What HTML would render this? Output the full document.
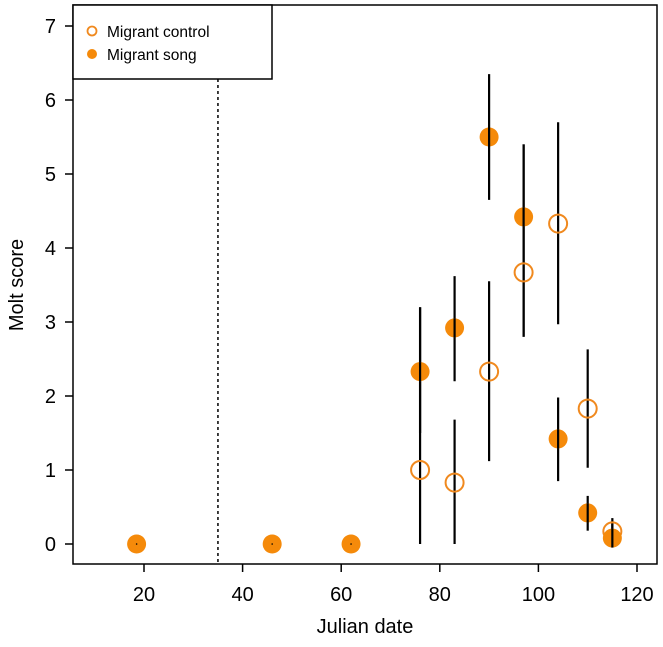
<!DOCTYPE html>
<html><head><meta charset="utf-8"><style>
body{margin:0;background:#fff}
svg{font-family:"Liberation Sans",sans-serif}
</style></head><body>
<svg id="c" width="663" height="642"></svg>
<script>
const xTicks=[20,40,60,80,100,120];
const yTicks=[0,1,2,3,4,5,6,7];
const songX=[18.5,46,62,76,83,90,97,104,110,115];
const songY=[0,0,0,2.33,2.92,5.5,4.42,1.42,0.42,0.08];
const songLo=[0,0,0,1.5,2.2,4.65,2.8,0.85,0.18,0];
const songHi=[0,0,0,3.2,3.62,6.35,5.4,1.98,0.65,0.3];
const ctrlX=[76,83,90,97,104,110,115];
const ctrlY=[1.0,0.83,2.33,3.67,4.33,1.83,0.17];
const ctrlLo=[0,0,1.12,2.8,2.97,1.03,0];
const ctrlHi=[3.2,1.68,3.55,5.4,5.7,2.63,0.35];
const cutoff=35;
const X=v=>144+(v-20)*4.93, Y=v=>544-v*74;
const svg=document.getElementById('c');const NS='http://www.w3.org/2000/svg';
function mk(t,a,p){const e=document.createElementNS(NS,t);for(const k in a)e.setAttribute(k,a[k]);(p||svg).appendChild(e);return e;}
const L=73,R=657,T=5,B=564;
let e=mk('rect',{x:L,y:T,width:R-L,height:B-T,fill:'none',stroke:'#000','stroke-width':1.5});


xTicks.forEach(v=>{
 let t=mk('line',{x1:X(v),x2:X(v),y1:B,y2:B+8,stroke:'#000','stroke-width':1.5});
 
 
 let l=mk('text',{x:X(v),y:B+37,'text-anchor':'middle','font-size':20});l.textContent=v;
 
 
});
yTicks.forEach(v=>{
 let t=mk('line',{x1:L-8,x2:L,y1:Y(v),y2:Y(v),stroke:'#000','stroke-width':1.5});
 
 
 let l=mk('text',{x:L-17,y:Y(v)+7,'text-anchor':'end','font-size':20});l.textContent=v;
 
 
});
e=mk('text',{x:365,y:633,'text-anchor':'middle','font-size':20});e.textContent='Julian date';


e=mk('text',{x:0,y:0,'text-anchor':'middle','font-size':20,transform:'translate(23,285) rotate(-90)'});e.textContent='Molt score';


e=mk('line',{x1:X(cutoff),x2:X(cutoff),y1:79,y2:B,stroke:'#000','stroke-width':1.5,'stroke-dasharray':'3,3'});


ctrlX.forEach((x,i)=>{
 let l=mk('line',{x1:X(x),x2:X(x),y1:Y(ctrlLo[i]),y2:Y(ctrlHi[i]),stroke:'#000','stroke-width':2.2});
 
 
});
songX.forEach((x,i)=>{
 if(songHi[i]>songLo[i]){let l=mk('line',{x1:X(x),x2:X(x),y1:Y(songLo[i]),y2:Y(songHi[i]),stroke:'#000','stroke-width':2.2});
 
 }
});
ctrlX.forEach((x,i)=>{
 let c=mk('circle',{cx:X(x),cy:Y(ctrlY[i]),r:9,fill:'none',stroke:'#f0891e','stroke-width':2});
 
 
});
songX.forEach((x,i)=>{
 let c=mk('circle',{cx:X(x),cy:Y(songY[i]),r:9.5,fill:'#f58a0a'});
 
 
 if(songHi[i]>songLo[i]){let l=mk('line',{x1:X(x),x2:X(x),y1:Y(songY[i])-9.5,y2:Y(songY[i])+9.5,stroke:'#000','stroke-width':2.2});
 
 }
 else{let d=mk('circle',{cx:X(x),cy:Y(songY[i]),r:0.8,fill:'#000'});
 
 }
});
const g=mk('g',{});


mk('rect',{x:L,y:T,width:199,height:74,fill:'#fff',stroke:'#000','stroke-width':1.5},g);
let c1=mk('circle',{cx:92,cy:31,r:4.5,fill:'none',stroke:'#f0891e','stroke-width':1.8},g);


let t1=mk('text',{x:107,y:37,'font-size':15.5},g);t1.textContent='Migrant control';


let c2=mk('circle',{cx:92,cy:54,r:5,fill:'#f58a0a'},g);


let t2=mk('text',{x:107,y:60,'font-size':15.5},g);t2.textContent='Migrant song';


</script>
</body></html>
